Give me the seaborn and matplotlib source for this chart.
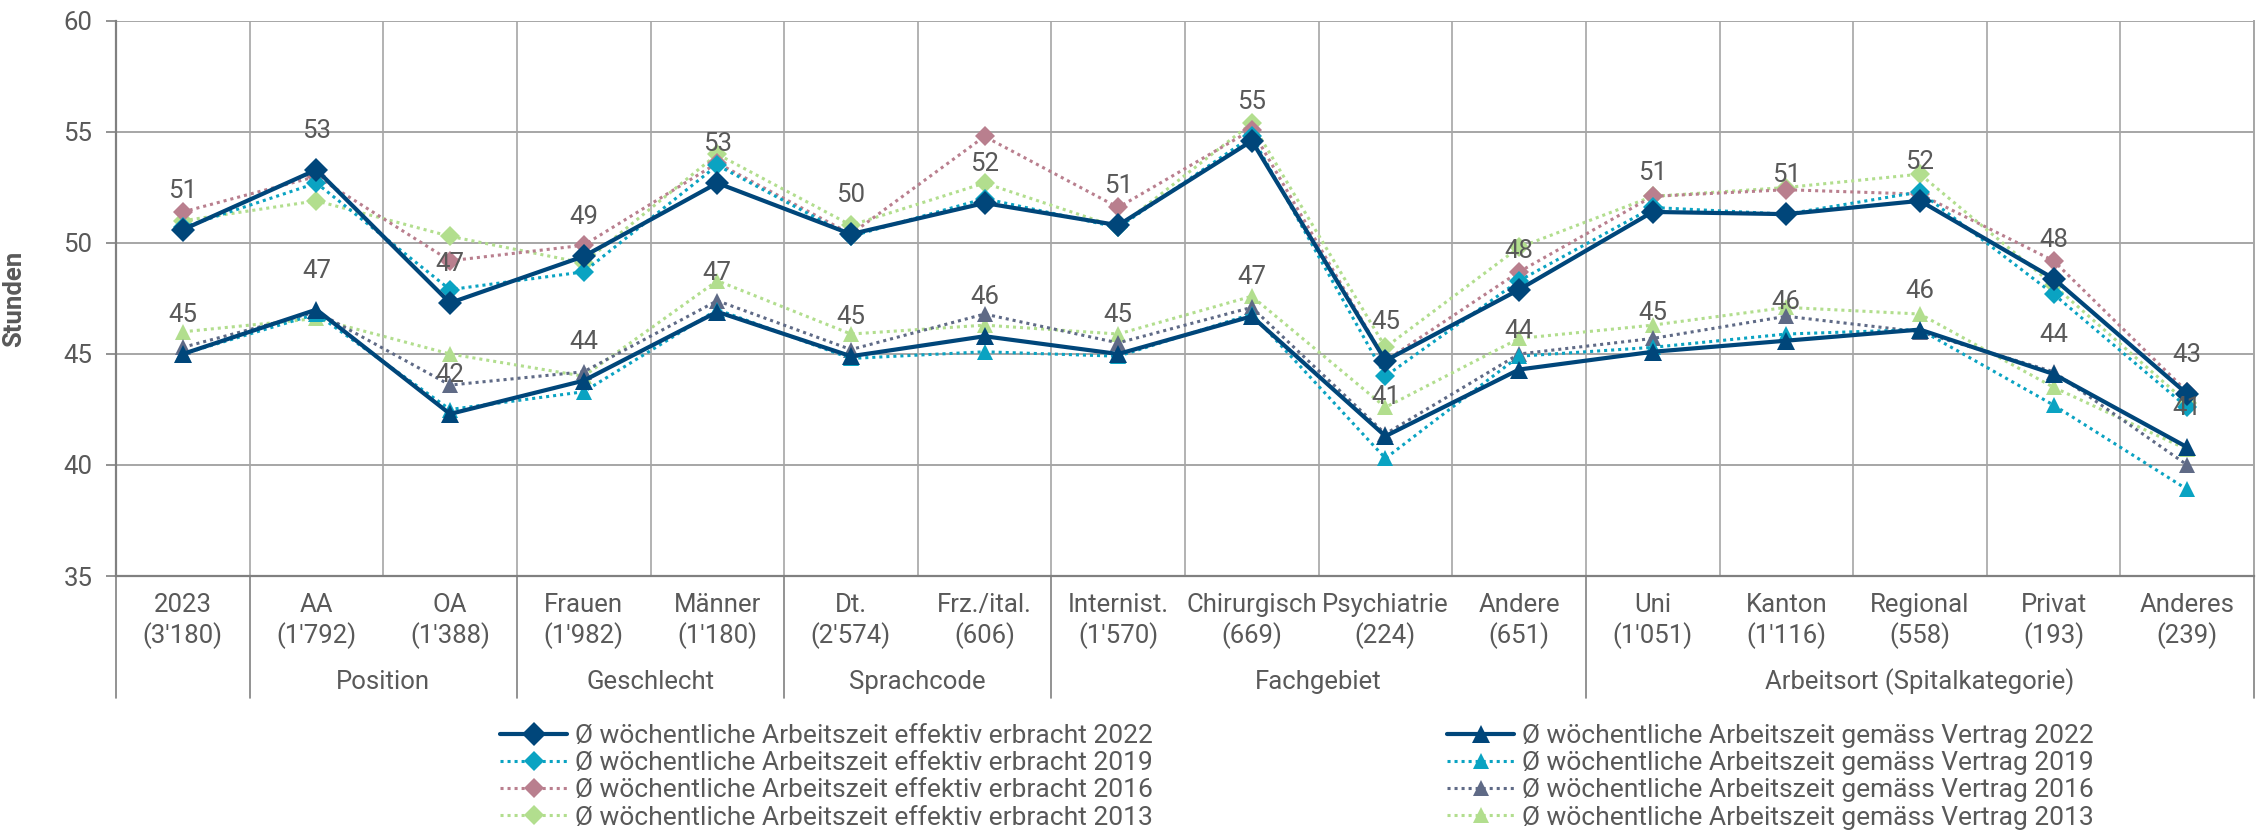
import numpy as np
import pandas as pd
import matplotlib
matplotlib.use("Agg")
import matplotlib.pyplot as plt
import seaborn as sns

# ---------------- data ----------------
cat_names = ["2023", "AA", "OA", "Frauen", "Männer", "Dt.", "Frz./ital.", "Internist.",
             "Chirurgisch", "Psychiatrie", "Andere", "Uni", "Kanton", "Regional", "Privat", "Anderes"]
cat_counts = ["(3'180)", "(1'792)", "(1'388)", "(1'982)", "(1'180)", "(2'574)", "(606)", "(1'570)",
              "(669)", "(224)", "(651)", "(1'051)", "(1'116)", "(558)", "(193)", "(239)"]
groups = ["", "Position", "Geschlecht", "Sprachcode", "Fachgebiet", "Arbeitsort (Spitalkategorie)"]
group_sizes = [1, 2, 2, 2, 4, 5]

eff_2022 = [50.6, 53.3, 47.3, 49.4, 52.7, 50.4, 51.8, 50.8, 54.6, 44.7, 47.9, 51.4, 51.3, 51.9, 48.4, 43.2]
eff_2019 = [50.7, 52.7, 47.9, 48.7, 53.5, 50.3, 52.0, 50.7, 54.8, 44.0, 48.3, 51.6, 51.3, 52.3, 47.7, 42.6]
eff_2016 = [51.4, 53.0, 49.2, 49.9, 53.6, 50.4, 54.8, 51.6, 55.1, 44.7, 48.7, 52.1, 52.4, 52.2, 49.2, 43.3]
eff_2013 = [51.0, 51.9, 50.3, 49.1, 54.0, 50.8, 52.7, 50.7, 55.4, 45.3, 49.8, 52.1, 52.5, 53.1, 48.1, 42.8]
ver_2022 = [45.0, 47.0, 42.3, 43.8, 46.9, 44.9, 45.8, 45.0, 46.7, 41.3, 44.3, 45.1, 45.6, 46.1, 44.1, 40.8]
ver_2019 = [45.0, 46.8, 42.5, 43.3, 47.0, 44.8, 45.1, 44.9, 46.8, 40.3, 44.9, 45.3, 45.9, 46.1, 42.7, 38.9]
ver_2016 = [45.3, 46.9, 43.6, 44.2, 47.4, 45.2, 46.8, 45.5, 47.1, 41.4, 45.0, 45.7, 46.7, 46.0, 44.2, 40.0]
ver_2013 = [46.0, 46.6, 45.0, 44.0, 48.3, 45.9, 46.3, 45.9, 47.6, 42.6, 45.7, 46.3, 47.1, 46.8, 43.5, 40.7]

eff_labels = ["Ø wöchentliche Arbeitszeit effektiv erbracht 2022",
              "Ø wöchentliche Arbeitszeit effektiv erbracht 2019",
              "Ø wöchentliche Arbeitszeit effektiv erbracht 2016",
              "Ø wöchentliche Arbeitszeit effektiv erbracht 2013"]
ver_labels = ["Ø wöchentliche Arbeitszeit gemäss Vertrag 2022",
              "Ø wöchentliche Arbeitszeit gemäss Vertrag 2019",
              "Ø wöchentliche Arbeitszeit gemäss Vertrag 2016",
              "Ø wöchentliche Arbeitszeit gemäss Vertrag 2013"]

# ---------------- style ----------------
sns.set_theme(style="white")
plt.rcParams['font.family'] = ['Roboto', 'DejaVu Sans']
TXT = "#595959"
NAVY = "#00467A"
TEAL = "#0AA3C2"
MAUVE = "#B97F8E"
GREEN = "#B2DE8E"
SLATE = "#5F6A86"
GRID = "#A6A6A6"
AXC = "#808080"

fig = plt.figure(figsize=(22.67, 8.31), dpi=100)
ax = fig.add_axes([116 / 2267, 1 - 576 / 831, (2254 - 116) / 2267, (576 - 21) / 831])

x = np.arange(len(cat_names))
dot = (0, (1.0, 1.3))

eff_series = [(eff_2022, NAVY, "-", 3.0, 12, 10), (eff_2019, TEAL, dot, 2.2, 10, 6),
              (eff_2016, MAUVE, dot, 2.2, 10, 5), (eff_2013, GREEN, dot, 2.2, 10, 4)]
ver_series = [(ver_2022, NAVY, "-", 3.0, 12, 10), (ver_2019, TEAL, dot, 2.2, 10, 6),
              (ver_2016, SLATE, dot, 2.2, 10, 5), (ver_2013, GREEN, dot, 2.2, 10, 4)]

for (vals, col, ls, lw, ms, z), lab in zip(eff_series, eff_labels):
    sns.lineplot(x=x, y=vals, ax=ax, color=col, linestyle=ls, linewidth=lw, marker="D",
                 markersize=ms, markeredgewidth=0, sort=False, zorder=z, label=lab)
for (vals, col, ls, lw, ms, z), lab in zip(ver_series, ver_labels):
    sns.lineplot(x=x, y=vals, ax=ax, color=col, linestyle=ls, linewidth=lw, marker="^",
                 markersize=ms + 1, markeredgewidth=0, sort=False, zorder=z, label=lab)

h, l = ax.get_legend_handles_labels()
ax.get_legend().remove()

# data labels for 2022 series
for xi, v in zip(x, eff_2022):
    ax.annotate(f"{v:.0f}", (xi, v), xytext=(0, 28), textcoords="offset points",
                ha="center", va="center", fontsize=18.5, color=TXT, zorder=20)
for xi, v in zip(x, ver_2022):
    ax.annotate(f"{v:.0f}", (xi, v), xytext=(0, 28), textcoords="offset points",
                ha="center", va="center", fontsize=18.5, color=TXT, zorder=20)

# axes
ax.set_xlim(-0.5, len(cat_names) - 0.5)
ax.set_ylim(35, 60)
ax.set_yticks(np.arange(35, 61, 5))
ax.set_xticks(x)
ax.set_xticklabels([f"{n}\n{c}" for n, c in zip(cat_names, cat_counts)], linespacing=1.25)
ax.set_xticks(np.arange(-0.5, len(cat_names), 1), minor=True)
ax.tick_params(axis="x", which="both", length=0, pad=12, labelsize=18.5, labelcolor=TXT)
ax.tick_params(axis="y", length=7, width=1.2, color=AXC, pad=10, labelsize=18.5,
               labelcolor=TXT, left=True)
ax.grid(axis="y", color=GRID, linewidth=1.4)
ax.grid(axis="x", which="minor", color=GRID, linewidth=1.2)
ax.grid(axis="x", which="major", visible=False)
ax.set_axisbelow(True)
for s in ["left", "bottom"]:
    ax.spines[s].set_color(AXC)
    ax.spines[s].set_linewidth(1.6)
ax.spines["right"].set_color(GRID)
ax.spines["right"].set_linewidth(1.4)
ax.spines["top"].set_visible(False)

ax.set_ylabel("Stunden", fontsize=18.5, fontweight="bold", color=TXT)
ax.yaxis.set_label_coords(-0.042, 0.5)

# multi-level category axis: group separators and labels
tr = ax.get_xaxis_transform()
ybot = -(698 - 576) / 555
bounds = np.concatenate([[-0.5], np.cumsum(group_sizes) - 0.5])
for b in bounds:
    ax.plot([b, b], [0, ybot], transform=tr, color=AXC, linewidth=1.2, clip_on=False)
for g, a, b in zip(groups, bounds[:-1], bounds[1:]):
    if g:
        ax.text((a + b) / 2, -(682 - 576) / 555, g, transform=tr, ha="center", va="center",
                fontsize=18.5, color=TXT)

# legends
kw = dict(frameon=False, fontsize=19, handlelength=2.55, handletextpad=0.3,
          labelspacing=0.12, borderpad=0, borderaxespad=0, labelcolor=TXT, loc="upper left")
fig.legend(h[:4], l[:4], bbox_to_anchor=(500 / 2267, 1 - 724 / 831), **kw)
fig.legend(h[4:], l[4:], bbox_to_anchor=(1447 / 2267, 1 - 724 / 831), **kw)

fig.savefig("out.png", dpi=100)
